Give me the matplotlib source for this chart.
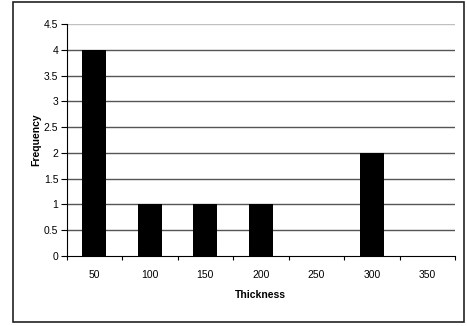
import numpy as np
import matplotlib.pyplot as plt
from matplotlib.patches import Rectangle

# Histogram of thickness values
thickness = ["50", "100", "150", "200", "250", "300", "350"]
frequency = [4, 1, 1, 1, 0, 2, 0]
y_ticks = [0, 0.5, 1, 1.5, 2, 2.5, 3, 3.5, 4, 4.5]
y_labels = ["0", "0.5", "1", "1.5", "2", "2.5", "3", "3.5", "4", "4.5"]

plt.rcParams["font.family"] = ["Liberation Sans", "DejaVu Sans"]

fig = plt.figure(figsize=(4.67, 3.26), dpi=100)
ax = fig.add_axes([0.1428, 0.2147, 0.8315, 0.7117])

# chart-area frame
fig.patches.append(Rectangle((13 / 467, 0.0138), 451 / 467, 0.981,
                             transform=fig.transFigure, fill=False,
                             edgecolor="#222222", linewidth=1.2))

x = np.arange(len(thickness))

# gridlines behind the bars
for v in y_ticks[1:]:
    col = "#c0c0c0" if v == y_ticks[-1] else "#555555"
    ax.axhline(v, color=col, linewidth=1.0, zorder=1)

ax.bar(x, frequency, width=0.43, color="black", zorder=2)

ax.set_xlim(-0.5, len(thickness) - 0.5)
ax.set_ylim(0, 4.5)

ax.set_yticks(y_ticks)
ax.set_yticklabels(y_labels, fontsize=7.5)
ax.tick_params(axis="y", direction="out", length=4, width=0.8, pad=2)

ax.set_xticks(x)
ax.set_xticklabels(thickness, fontsize=7.5)
ax.tick_params(axis="x", which="major", length=0, pad=10)
ax.set_xticks(np.arange(-0.5, len(thickness)), minor=True)
ax.tick_params(axis="x", which="minor", direction="out", length=3, width=0.8)

for side in ["top", "right"]:
    ax.spines[side].set_visible(False)
ax.spines["left"].set_color("black")
ax.spines["bottom"].set_color("black")
ax.spines["left"].set_zorder(3)
ax.spines["bottom"].set_zorder(3)

ax.set_xlabel("Thickness", fontsize=7.5, fontweight="bold", labelpad=7)
ax.set_ylabel("Frequency", fontsize=7.5, fontweight="bold", labelpad=2)

fig.savefig("out.png", dpi=100)
